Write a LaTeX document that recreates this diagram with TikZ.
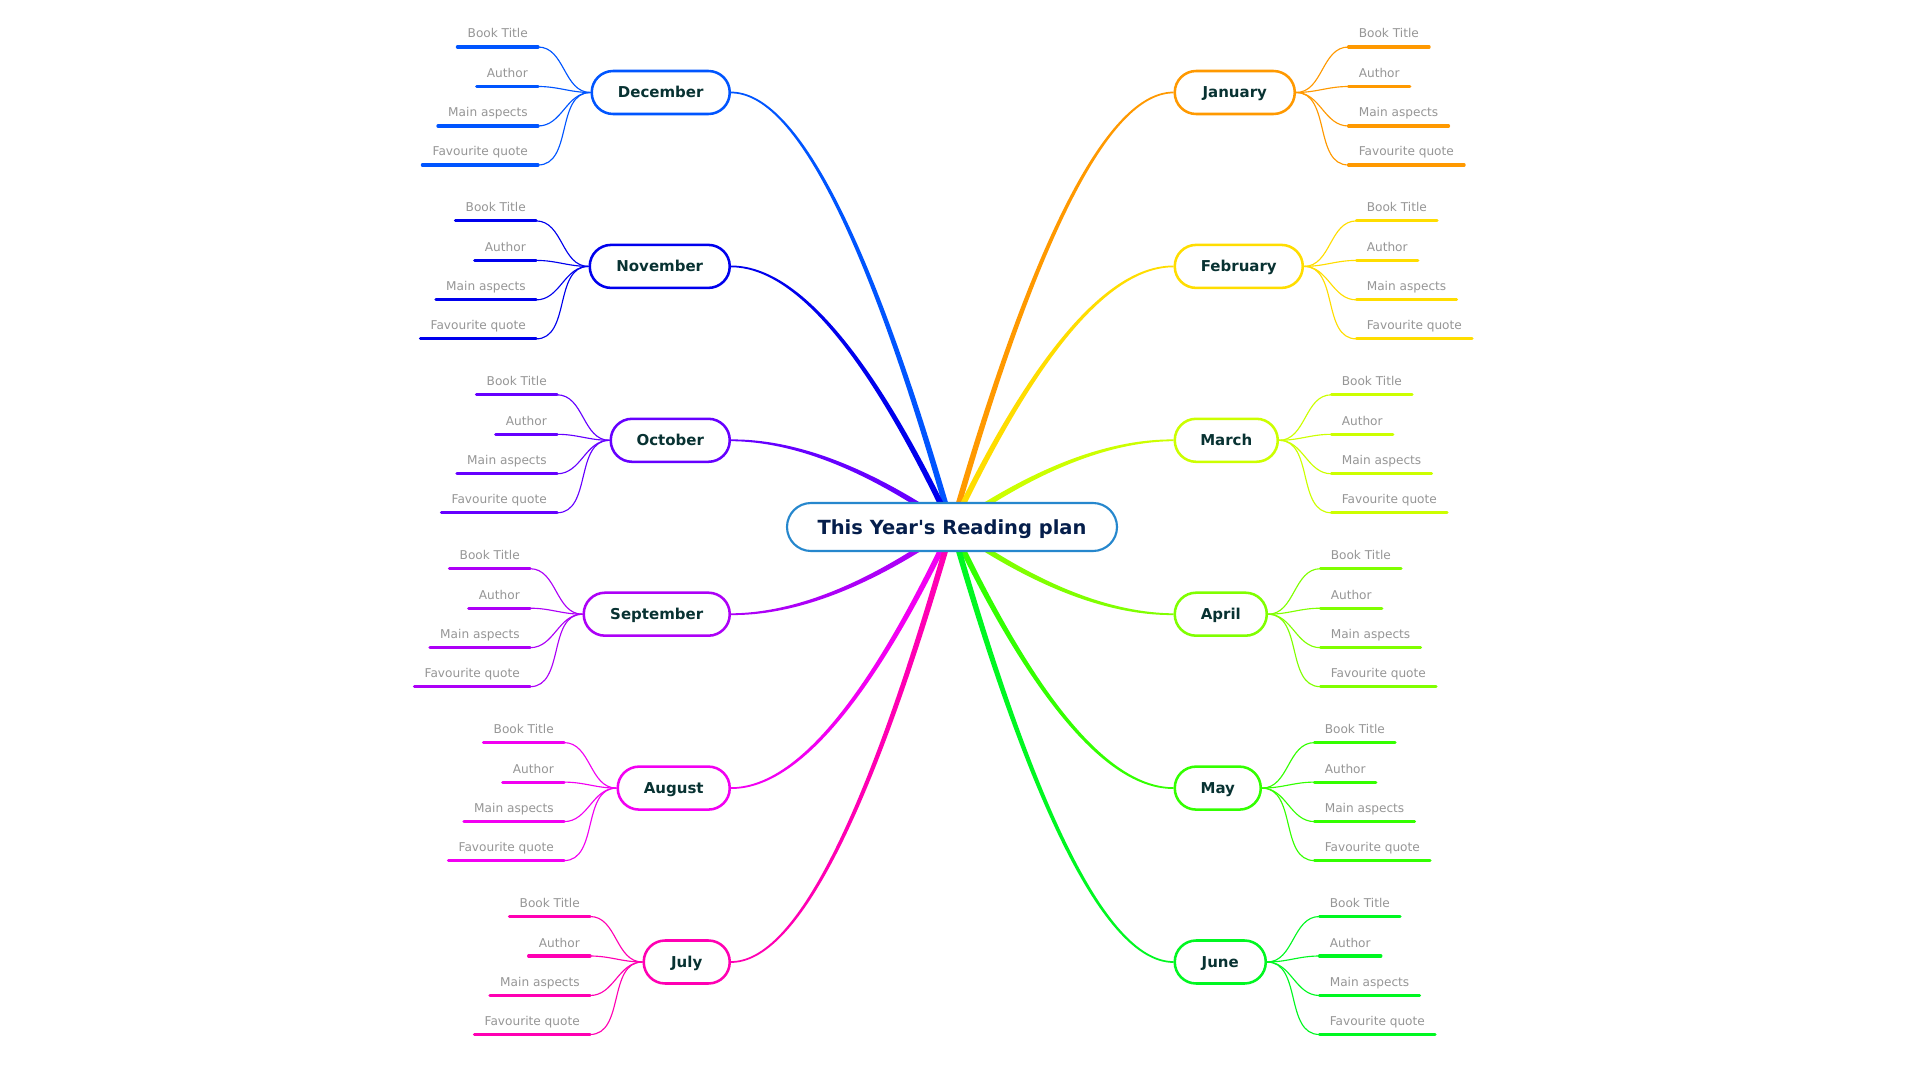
\documentclass[tikz,border=0pt]{standalone}
\usepackage{fontspec}
\setmainfont{DejaVu Sans}[Ligatures=TeXOff]
\usetikzlibrary{calc}
\pgfdeclarelayer{back}
\pgfdeclarelayer{bg}
\pgfsetlayers{back,bg,main}
\definecolor{cJan}{RGB}{255,153,0}
\definecolor{cFeb}{RGB}{255,221,0}
\definecolor{cMar}{RGB}{204,255,0}
\definecolor{cApr}{RGB}{128,255,0}
\definecolor{cMay}{RGB}{51,255,0}
\definecolor{cJun}{RGB}{0,247,33}
\definecolor{cJul}{RGB}{255,0,179}
\definecolor{cAug}{RGB}{242,0,242}
\definecolor{cSep}{RGB}{173,0,247}
\definecolor{cOct}{RGB}{102,0,255}
\definecolor{cNov}{RGB}{0,0,237}
\definecolor{cDec}{RGB}{0,85,255}
\definecolor{monthtext}{RGB}{8,50,50}
\definecolor{titletext}{RGB}{5,30,75}
\definecolor{ctrline}{RGB}{38,135,205}
\definecolor{leaftext}{RGB}{150,150,150}

\newcommand{\branch}[3]{%
  \coordinate (#3p0) at (#1);
  \coordinate (#3qq) at ($(#3p0)!0.44!(ctr.center)$);
  \coordinate (#3q) at (#3qq |- #3p0);
  \coordinate (#3a0) at ($(#3p0)!0.64pt!90:(#3q)$);
  \coordinate (#3b0) at ($(#3p0)!0.64pt!-90:(#3q)$);
  \coordinate (#3a2) at ($(ctr.center)!2.25pt!-90:(#3q)$);
  \coordinate (#3b2) at ($(ctr.center)!2.25pt!90:(#3q)$);
  \coordinate (#3qa) at ($(#3q)+0.5*(#3a0)-0.5*(#3p0)+0.5*(#3a2)-0.5*(ctr.center)$);
  \coordinate (#3qb) at ($(#3q)+0.5*(#3b0)-0.5*(#3p0)+0.5*(#3b2)-0.5*(ctr.center)$);
  \begin{pgfonlayer}{bg}
  \fill[#2] (#3a0) .. controls ($(#3a0)!0.6667!(#3qa)$) and ($(#3a2)!0.6667!(#3qa)$) .. (#3a2)
     -- (#3b2) .. controls ($(#3b2)!0.6667!(#3qb)$) and ($(#3b0)!0.6667!(#3qb)$) .. (#3b0) -- cycle;
  \end{pgfonlayer}
}

\newcommand{\monthL}[5]{% name, label, width, y, colour
  \node[month=#5, minimum width={#3*0.75pt}, anchor=east] (#1) at (731,#4) {#2};
  \branch{#1.east}{#5}{#1}
  \foreach \txt/\off [count=\k] in {Book Title/-45.5,Author/-6,Main aspects/33.5,Favourite quote/72.5}{
    \node[leaf, anchor=base east] (#1l\k) at ({731-#3-55},{#4+(\off)-9}) {\txt};
    \coordinate (#1a\k) at ([yshift=-6.75pt]#1l\k.base west);
    \coordinate (#1b\k) at ([yshift=-6.75pt]#1l\k.base east);
    \draw[uline=#5] (#1a\k) -- (#1b\k);
    \begin{pgfonlayer}{bg}
      \draw[twig=#5] (#1.west) to[out=180,in=0] (#1b\k);
    \end{pgfonlayer}
  }
}

\newcommand{\monthR}[5]{% name, label, width, y, colour
  \node[month=#5, minimum width={#3*0.75pt}, anchor=west] (#1) at (1173.5,#4) {#2};
  \branch{#1.west}{#5}{#1}
  \foreach \txt/\off [count=\k] in {Book Title/-45.5,Author/-6,Main aspects/33.5,Favourite quote/72.5}{
    \node[leaf, anchor=base west] (#1l\k) at ({1173.5+#3+55},{#4+(\off)-9}) {\txt};
    \coordinate (#1a\k) at ([yshift=-6.75pt]#1l\k.base west);
    \coordinate (#1b\k) at ([yshift=-6.75pt]#1l\k.base east);
    \draw[uline=#5] (#1a\k) -- (#1b\k);
    \begin{pgfonlayer}{bg}
      \draw[twig=#5] (#1.east) to[out=0,in=180] (#1a\k);
    \end{pgfonlayer}
  }
}

\begin{document}
\begin{tikzpicture}[x=0.75pt,y=-0.75pt,
  month/.style={draw=#1, line width=1.9pt, fill=white, rounded corners=16pt,
    minimum height=32.25pt, inner sep=0pt, text height=8.2pt, text depth=0pt,
    font=\fontsize{11.25pt}{13.5pt}\selectfont\bfseries, text=monthtext},
  centre/.style={draw=ctrline, line width=1.6pt, fill=white, rounded corners=18pt,
    minimum width=247.5pt, minimum height=36pt, inner sep=0pt, text height=10.6pt, text depth=0pt,
    font=\fontsize{14.6pt}{17pt}\selectfont\bfseries, text=titletext},
  leaf/.style={inner xsep=7.5pt, inner ysep=0pt,
    font=\fontsize{9.1pt}{10.5pt}\selectfont, text=leaftext},
  uline/.style={draw=#1, line width=2.4pt, line cap=round},
  twig/.style={draw=#1, line width=0.85pt}
]
\begin{pgfonlayer}{back}
  \fill[white] (0,0) rectangle (1920,1080);
\end{pgfonlayer}
\useasboundingbox (0,0) rectangle (1920,1080);

\node[centre] (ctr) at (952,527) {This Year's Reading plan};

\monthL{dec}{December}{138}{92.5}{cDec}
\monthL{nov}{November}{140}{266.4}{cNov}
\monthL{oct}{October}{119}{440.3}{cOct}
\monthL{sep}{September}{146}{614.2}{cSep}
\monthL{aug}{August}{112}{788.1}{cAug}
\monthL{jul}{July}{86}{962}{cJul}

\monthR{jan}{January}{120}{92.5}{cJan}
\monthR{feb}{February}{128}{266.4}{cFeb}
\monthR{mar}{March}{103}{440.3}{cMar}
\monthR{apr}{April}{92}{614.2}{cApr}
\monthR{may}{May}{86}{788.1}{cMay}
\monthR{jun}{June}{91}{962}{cJun}
\end{tikzpicture}
\end{document}
